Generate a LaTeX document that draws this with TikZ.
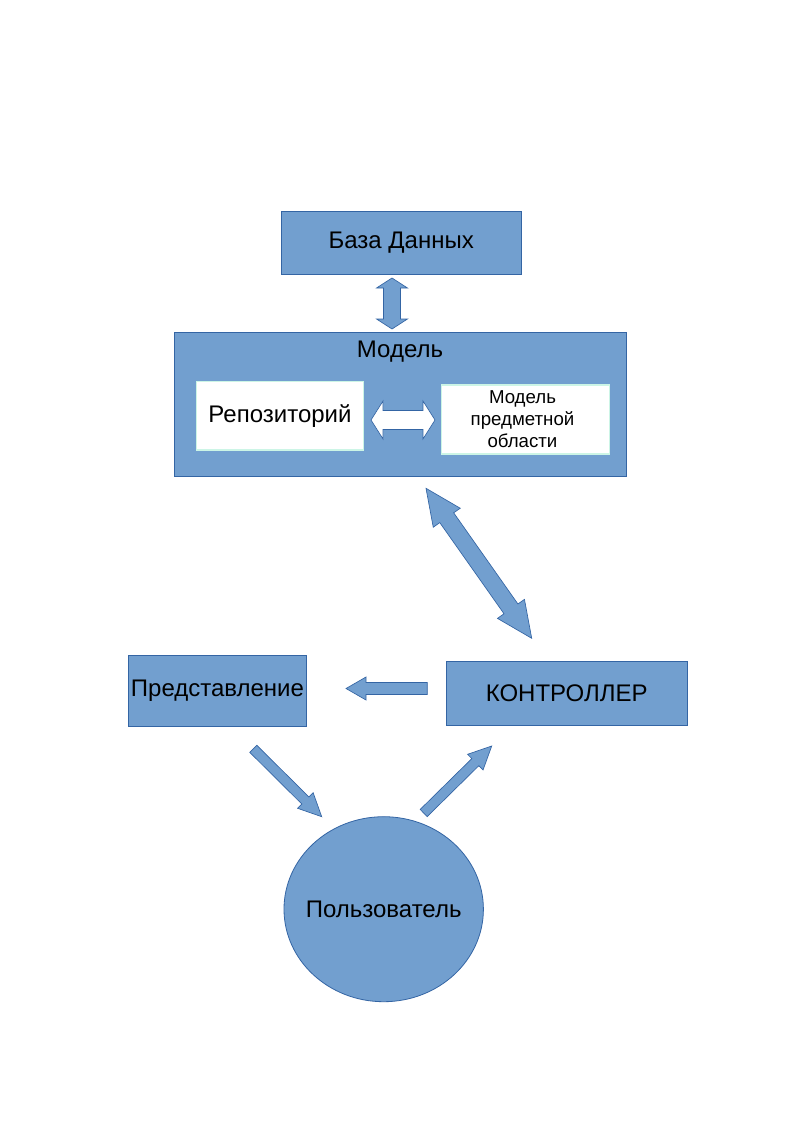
\documentclass[tikz,border=0pt]{standalone}
\usepackage{fontspec}
\setmainfont{Liberation Sans}
\usetikzlibrary{calc,shapes.geometric}
\definecolor{boxfill}{HTML}{729FCF}
\definecolor{boxline}{HTML}{3465A4}
\definecolor{mint}{HTML}{CCF5E6}
\tikzset{
  bluebox/.style={draw=boxline, fill=boxfill, line width=0.6pt, inner sep=0pt, font=\fontsize{18}{21}\selectfont},
  whitebox/.style={draw=mint, fill=white, line width=0.8pt, inner sep=0pt},
  arr/.style={draw=boxline, fill=boxfill, line width=0.5pt, line join=miter},
  warr/.style={draw=boxline, fill=white, line width=0.5pt, line join=miter},
  label18/.style={inner sep=0pt, font=\fontsize{18}{21}\selectfont},
}
% single block arrow from #2 to #3: shaft half-width #4, head half-width #5, head length #6
\newcommand\sblockarrow[6]{%
  \coordinate (hB) at ($(#3)!#6!(#2)$);
  \draw[#1] ($(#2)!#4!90:(#3)$) -- ($(hB)!#4!90:(#3)$) -- ($(hB)!#5!90:(#3)$) -- (#3)
    -- ($(hB)!#5!-90:(#3)$) -- ($(hB)!#4!-90:(#3)$) -- ($(#2)!#4!-90:(#3)$) -- cycle;}
% double block arrow between #2 and #3
\newcommand\dblockarrow[6]{%
  \coordinate (hA) at ($(#2)!#6!(#3)$);
  \coordinate (hB) at ($(#3)!#6!(#2)$);
  \draw[#1] (#2) -- ($(hA)!#5!90:(#3)$) -- ($(hA)!#4!90:(#3)$) -- ($(hB)!#4!90:(#3)$) -- ($(hB)!#5!90:(#3)$) -- (#3)
    -- ($(hB)!#5!-90:(#3)$) -- ($(hB)!#4!-90:(#3)$) -- ($(hA)!#4!-90:(#3)$) -- ($(hA)!#5!-90:(#3)$) -- cycle;}
\begin{document}
\begin{tikzpicture}[x=0.75pt,y=-0.75pt]
\useasboundingbox (0,0) rectangle (794,1123);
\fill[white] (0,0) rectangle (794,1123);

% boxes
\node[bluebox, minimum width=180.4pt, minimum height=47.25pt] (db) at (401.25,242.5) {База Данных};
\node[bluebox, minimum width=339.5pt, minimum height=108pt] (model) at (400.35,404.7) {};
\node[label18] (modeltitle) at (400,352) {Модель};
\node[whitebox, minimum width=125pt, minimum height=51.2pt, font=\fontsize{18}{21}\selectfont] (repo) at (280,415.85) {Репозиторий};
\node[whitebox, minimum width=125.7pt, minimum height=51.75pt] (domain) at (525.5,419.5) {};
\node[align=center, inner sep=0pt, font=\fontsize{14}{16.5}\selectfont] (domaintext) at (522.5,419.5) {Модель\\предметной\\области};
\node[bluebox, minimum width=133.8pt, minimum height=53.25pt] (view) at (217.5,690.5) {Представление};
\node[bluebox, minimum width=181pt, minimum height=47.5pt] (ctrl) at (566.65,693.35) {КОНТРОЛЛЕР};
\node[bluebox, ellipse, minimum width=149.55pt, minimum height=138.75pt] (user) at (383.7,909.2) {};
\node[label18] (usertext) at (383.7,909.5) {Пользователь};

% arrow end points
\coordinate (a1) at (392,278);   \coordinate (b1) at (392,329);
\coordinate (a2) at (371,420);   \coordinate (b2) at (435,420);
\coordinate (a3) at (426,488.3); \coordinate (b3) at (531.7,638.3);
\coordinate (a4) at (427.3,688.5); \coordinate (b4) at (346,688.5);
\coordinate (a5) at (253.3,748.8); \coordinate (b5) at (321.7,816.7);
\coordinate (a6) at (423.7,813); \coordinate (b6) at (491.7,746);

\dblockarrow{arr}{a1}{b1}{6.375pt}{11.625pt}{7.5pt}
\dblockarrow{warr}{a2}{b2}{7.125pt}{14.25pt}{9pt}
\dblockarrow{arr}{a3}{b3}{6.375pt}{12.375pt}{27pt}
\sblockarrow{arr}{a4}{b4}{4.5pt}{8.625pt}{15pt}
\sblockarrow{arr}{a5}{b5}{3.75pt}{8.25pt}{17.25pt}
\sblockarrow{arr}{a6}{b6}{3.75pt}{8.25pt}{17.25pt}
\end{tikzpicture}
\end{document}
